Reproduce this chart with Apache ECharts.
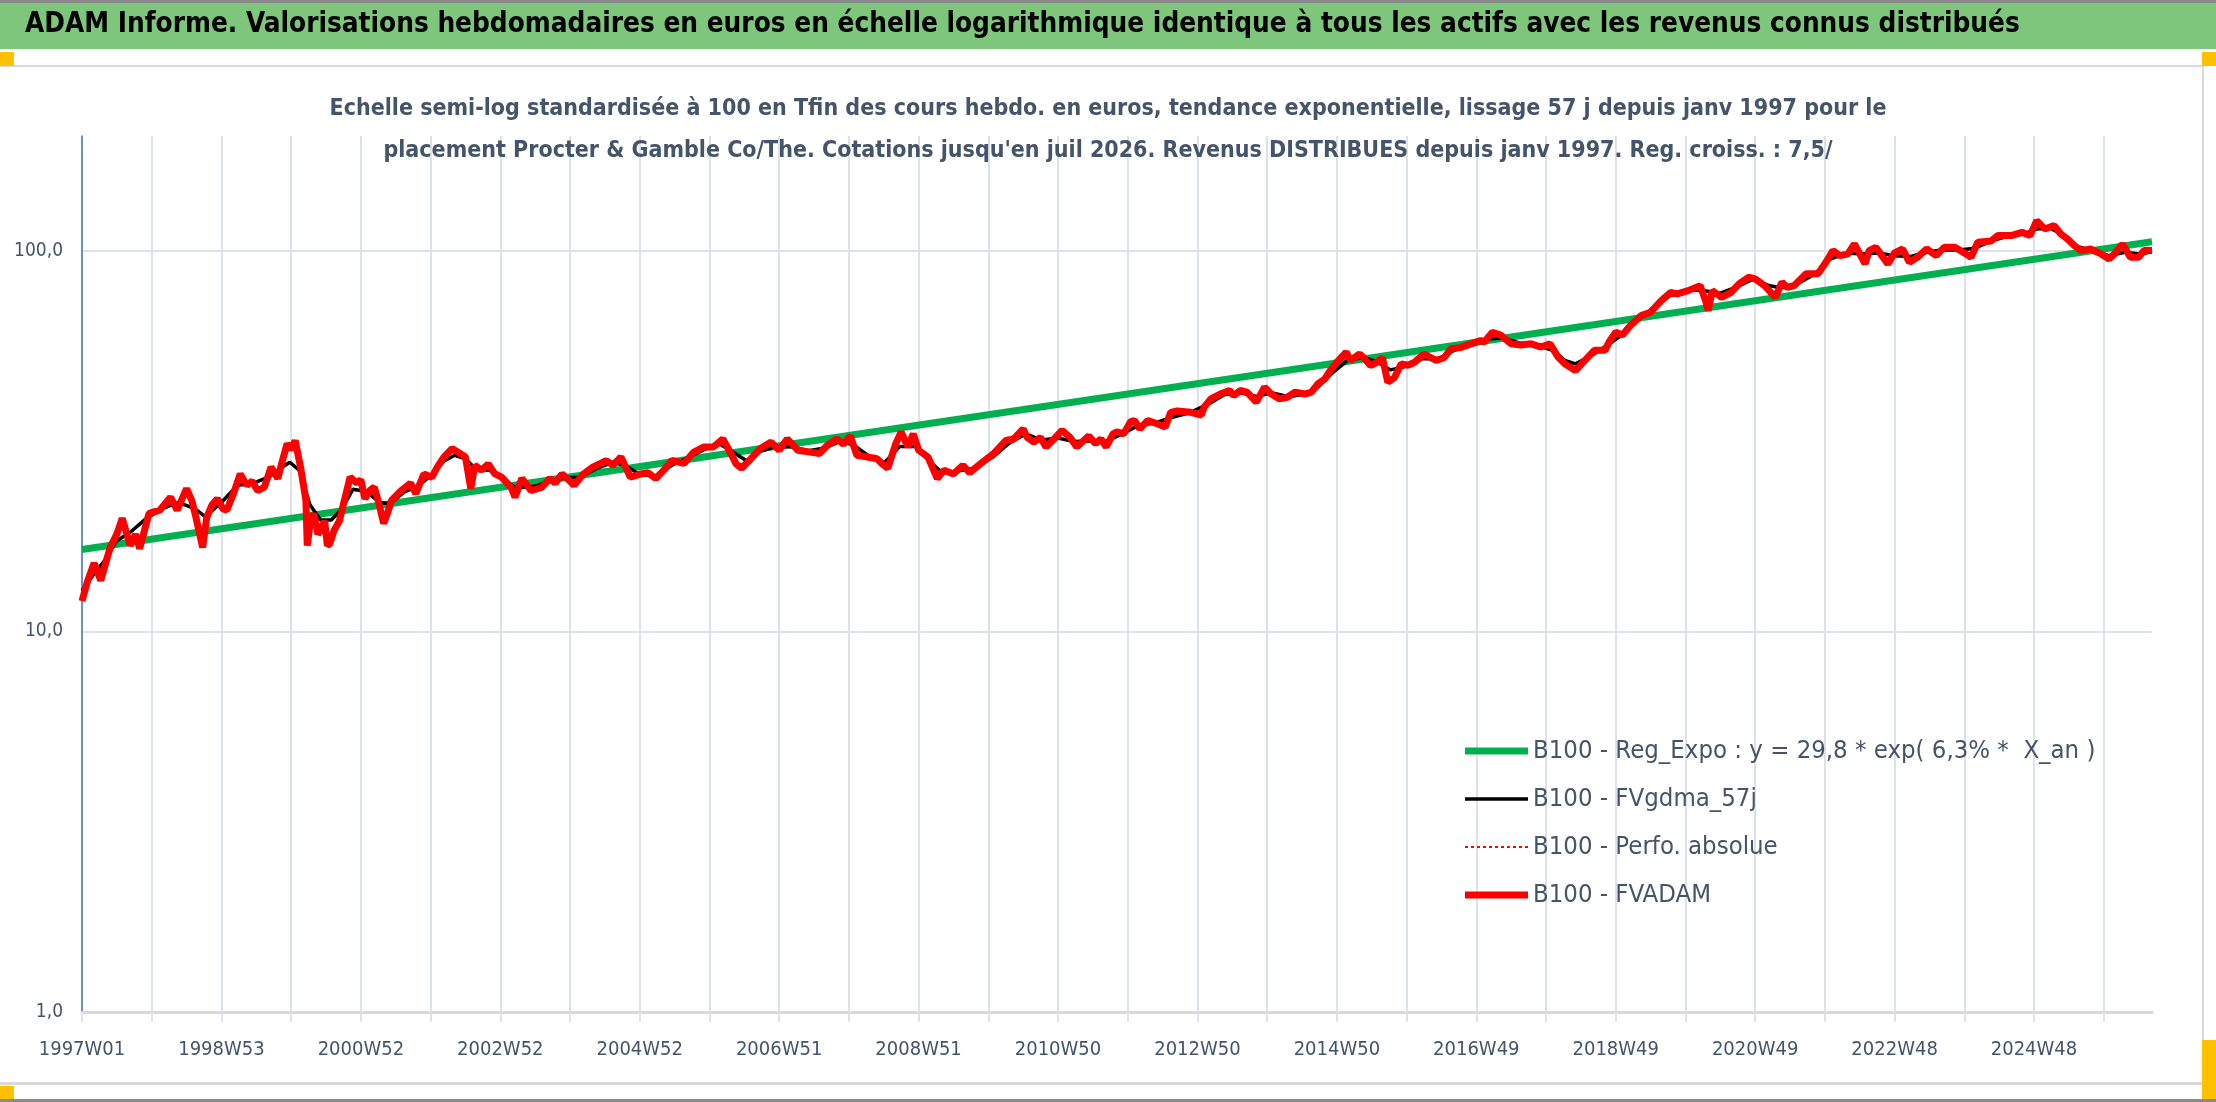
<!DOCTYPE html>
<html>
<head>
<meta charset="utf-8">
<title>ADAM Informe - Procter & Gamble</title>
<script src="https://cdn.jsdelivr.net/npm/echarts@6/dist/echarts.min.js"></script>
<style>
  html, body { margin: 0; padding: 0; background: #fff; }
  #main { width: 2216px; height: 1102px; }
</style>
</head>
<body>
<div id="main"></div>
<script>
// nombre de semaines affichees (1997W01 -> juil 2026)
var weekCount = 1545;

// libelles du graphique
var mainTitle = 'ADAM Informe. Valorisations hebdomadaires en euros en échelle logarithmique identique à tous les actifs avec les revenus connus distribués';
var subTitle1 = 'Echelle semi-log standardisée à 100 en Tfin des cours hebdo. en euros, tendance exponentielle, lissage 57 j depuis janv 1997 pour le';
var subTitle2 = "placement Procter & Gamble Co/The. Cotations jusqu'en juil 2026. Revenus DISTRIBUES depuis janv 1997. Reg. croiss. : 7,5/";
var seriesNames = [
  'B100 - Reg_Expo : y = 29,8 * exp( 6,3% *  X_an )',
  'B100 - FVgdma_57j',
  'B100 - Perfo. absolue',
  'B100 - FVADAM'
];

// tendance exponentielle : debut et fin (droite en echelle log)
var regExpo = [[0, 16.4], [1544, 105.5]];

// FVADAM : [index semaine, valeur]
var fvAdam = [
  [0, 12.0], [4, 13.5], [9, 15.1], [14, 13.6], [21, 16.6], [26, 18.0], [30, 19.8], [36, 16.8],
  [40, 18.0], [43, 16.5], [50, 20.4], [58, 20.8], [66, 22.5], [71, 20.8], [78, 23.7], [82, 22.0],
  [85, 19.9], [90, 16.6], [93, 19.9], [97, 21.5], [101, 22.3], [105, 21.0], [108, 20.8], [113, 23.0],
  [118, 25.9], [123, 24.2], [127, 24.8], [131, 23.4], [136, 23.9], [141, 27.0], [146, 25.2], [150, 28.5],
  [153, 31.1], [156, 30.0], [159, 31.7], [163, 27.0], [167, 22.1], [168, 16.8], [170, 19.0], [173, 20.4],
  [176, 18.0], [178, 18.4], [181, 19.5], [183, 16.8], [185, 17.0], [188, 18.4], [192, 19.5], [195, 21.6],
  [200, 25.4], [205, 24.5], [208, 25.0], [211, 22.3], [215, 23.5], [218, 23.9], [221, 22.0], [225, 19.2],
  [228, 20.5], [231, 22.1], [238, 23.4], [245, 24.5], [249, 23.0], [255, 25.9], [261, 25.4], [265, 27.0],
  [270, 28.7], [276, 30.2], [282, 29.3], [286, 28.7], [290, 23.7], [293, 27.3], [298, 26.5], [303, 27.5],
  [308, 25.9], [313, 25.4], [320, 23.9], [323, 22.5], [328, 25.2], [335, 23.4], [343, 23.9], [349, 25.2],
  [353, 24.5], [358, 25.9], [363, 25.0], [367, 24.2], [374, 25.9], [381, 27.0], [386, 27.5], [391, 28.1],
  [396, 27.3], [402, 28.7], [409, 25.4], [417, 25.9], [422, 26.1], [428, 25.2], [434, 26.5], [440, 28.1],
  [449, 27.6], [456, 29.5], [464, 30.5], [471, 30.5], [478, 32.0], [484, 29.3], [488, 27.5], [492, 26.8],
  [499, 28.4], [506, 30.2], [514, 31.4], [520, 29.9], [526, 32.0], [534, 29.9], [542, 29.6], [550, 29.3],
  [556, 30.8], [563, 32.0], [568, 31.0], [573, 32.6], [578, 29.0], [586, 28.7], [593, 28.4], [597, 27.5],
  [601, 26.8], [607, 31.1], [611, 33.4], [616, 30.5], [620, 33.0], [624, 29.9], [631, 28.7], [638, 25.2],
  [643, 26.5], [650, 25.9], [657, 27.3], [662, 26.1], [670, 27.5], [680, 29.3], [689, 31.7], [695, 32.0],
  [702, 34.0], [705, 32.3], [710, 31.4], [715, 32.3], [719, 30.5], [725, 32.0], [731, 33.7], [737, 32.3],
  [742, 30.5], [751, 32.6], [756, 31.1], [760, 32.0], [764, 30.5], [769, 33.0], [772, 33.4], [777, 33.0],
  [782, 35.5], [785, 35.8], [789, 34.0], [795, 35.8], [802, 35.1], [808, 34.4], [812, 37.6], [817, 37.9],
  [827, 37.6], [835, 37.0], [837, 38.8], [842, 40.8], [849, 42.0], [856, 42.9], [859, 41.6], [864, 42.9],
  [869, 42.5], [876, 40.0], [882, 43.8], [887, 42.0], [893, 40.8], [899, 41.2], [905, 42.5], [912, 42.0],
  [917, 42.5], [922, 44.7], [927, 46.0], [931, 48.4], [936, 50.9], [943, 54.1], [946, 51.5], [953, 53.5],
  [956, 52.3], [961, 49.9], [966, 50.9], [970, 52.3], [974, 45.1], [979, 46.4], [984, 50.4], [989, 50.0],
  [994, 50.9], [1001, 53.5], [1010, 51.5], [1016, 52.3], [1021, 55.2], [1028, 55.6], [1036, 56.9], [1043, 58.0],
  [1046, 57.5], [1052, 61.0], [1058, 60.0], [1066, 56.9], [1073, 56.5], [1081, 56.9], [1088, 55.8], [1095, 56.9],
  [1101, 52.5], [1106, 50.4], [1114, 48.4], [1121, 51.5], [1128, 54.7], [1136, 54.7], [1139, 57.5], [1144, 61.0],
  [1149, 60.0], [1155, 63.6], [1163, 67.5], [1170, 68.9], [1178, 73.9], [1185, 77.7], [1190, 77.0], [1198, 78.5],
  [1207, 80.9], [1211, 73.9], [1213, 69.6], [1216, 78.5], [1223, 75.4], [1230, 77.7], [1236, 81.8], [1243, 85.1],
  [1248, 84.3], [1255, 80.9], [1263, 75.4], [1268, 82.6], [1272, 80.0], [1277, 80.9], [1286, 86.9], [1295, 87.0],
  [1300, 92.3], [1303, 96.0], [1306, 100.0], [1311, 97.0], [1317, 97.9], [1322, 104.1], [1330, 92.3], [1333, 100.0],
  [1338, 102.0], [1347, 92.3], [1352, 98.6], [1358, 101.0], [1363, 93.2], [1369, 96.0], [1376, 101.0], [1383, 97.0],
  [1389, 102.0], [1397, 102.0], [1404, 98.6], [1409, 96.0], [1414, 105.2], [1424, 106.0], [1429, 109.5], [1439, 109.5],
  [1447, 111.7], [1453, 109.5], [1458, 119.9], [1464, 114.0], [1471, 116.3], [1476, 110.6], [1481, 107.3], [1486, 103.1],
  [1491, 100.0], [1498, 101.0], [1506, 98.0], [1512, 95.1], [1516, 98.0], [1522, 104.0], [1528, 96.0], [1534, 96.0],
  [1538, 100.0], [1544, 100.0]
];

// FVgdma_57j : moyenne lissee
var fvGdma = [
  [0, 12.8], [8, 14.0], [16, 15.2], [26, 17.3], [36, 18.2], [48, 19.8], [60, 21.0], [72, 21.8],
  [84, 21.0], [92, 20.0], [104, 21.8], [116, 24.2], [128, 24.5], [140, 25.5], [148, 26.8], [155, 27.8],
  [162, 26.5], [170, 21.5], [178, 19.6], [186, 19.6], [194, 21.0], [202, 23.6], [212, 23.3], [222, 21.8],
  [230, 21.6], [240, 23.2], [250, 24.0], [260, 25.6], [270, 28.0], [278, 29.0], [286, 28.4], [294, 26.6],
  [304, 26.5], [314, 25.0], [324, 23.8], [336, 24.0], [348, 24.7], [360, 25.3], [372, 25.4], [384, 26.8],
  [396, 27.8], [406, 27.2], [416, 25.8], [428, 25.6], [440, 27.3], [452, 28.6], [464, 30.0], [476, 31.0],
  [486, 29.5], [496, 28.0], [506, 29.7], [518, 30.6], [530, 30.5], [542, 29.8], [554, 30.3], [566, 31.6],
  [576, 30.8], [586, 29.0], [598, 27.6], [610, 30.6], [622, 30.6], [632, 28.0], [642, 26.0], [654, 26.4],
  [666, 26.8], [680, 28.8], [692, 31.3], [704, 33.0], [716, 31.8], [728, 32.2], [740, 31.5], [752, 31.6],
  [764, 31.6], [776, 33.0], [788, 34.8], [800, 35.2], [812, 36.4], [826, 37.5], [840, 39.5], [852, 41.8],
  [864, 42.3], [876, 41.4], [888, 42.3], [900, 41.3], [912, 42.0], [922, 43.8], [932, 47.5], [944, 51.5],
  [956, 52.4], [966, 51.0], [976, 48.6], [986, 49.5], [1000, 52.0], [1012, 52.0], [1024, 54.8], [1036, 56.6],
  [1048, 58.5], [1060, 59.0], [1072, 57.2], [1086, 56.3], [1098, 54.5], [1106, 51.5], [1114, 50.4], [1126, 53.0],
  [1138, 56.5], [1150, 60.5], [1162, 66.5], [1174, 71.5], [1186, 77.0], [1198, 78.8], [1210, 78.5], [1222, 77.3],
  [1234, 80.2], [1246, 84.0], [1258, 81.0], [1268, 79.8], [1280, 82.0], [1292, 86.5], [1304, 95.0], [1316, 98.5],
  [1328, 98.0], [1340, 98.5], [1352, 97.0], [1364, 96.5], [1376, 99.0], [1388, 100.5], [1400, 100.3], [1412, 101.5],
  [1424, 106.0], [1436, 109.0], [1448, 110.5], [1458, 114.0], [1468, 114.5], [1478, 110.0], [1488, 102.5], [1500, 100.0],
  [1512, 97.0], [1524, 99.0], [1536, 97.8], [1544, 99.5]
];

// Perfo. absolue : confondue avec FVADAM sur le graphique
var perfoAbsolue = fvAdam;

// semaines ISO depuis le lundi 30/12/1996 (= 1997W01)
function isoWeekLabel(i) {
  var day = 86400000;
  var monday = Date.UTC(1996, 11, 30) + i * 7 * day;
  var thursday = new Date(monday + 3 * day);
  var year = thursday.getUTCFullYear();
  var doy = Math.floor((thursday.getTime() - Date.UTC(year, 0, 1)) / day);
  var week = Math.floor(doy / 7) + 1;
  return year + 'W' + (week < 10 ? '0' + week : week);
}
var weeks = [];
for (var i = 0; i < weekCount; i++) {
  weeks.push(isoWeekLabel(i));
}

var narrow = "'Liberation Sans Narrow', 'DejaVu Sans Condensed', 'Noto Sans', sans-serif";
var slate = '#44546A';
var gridColor = '#DDE2EA';

// pictos de legende : traits horizontaux
var dots = '';
for (var k = 0; k < 11; k++) {
  dots += 'M' + (k * 6) + ',0h3v2h-3z';
}
var legendIcons = [
  'path://M0,0H63V7H0Z',
  'path://M0,0H63V3.5H0Z',
  'path://' + dots,
  'path://M0,0H63V7H0Z'
];

var chart = echarts.init(document.getElementById('main'));
var option = {
  animation: false,
  backgroundColor: '#ffffff',
  textStyle: { fontFamily: narrow },
  graphic: [
    { type: 'rect', z: -10, shape: { x: 0, y: 0, width: 2216, height: 3 }, style: { fill: '#8A8A8A' } },
    { type: 'rect', z: -10, shape: { x: 0, y: 3, width: 2216, height: 46 }, style: { fill: '#7DC67C' } },
    { type: 'rect', z: -10, shape: { x: 0, y: 65, width: 2204, height: 2 }, style: { fill: '#D9D9D9' } },
    { type: 'rect', z: -10, shape: { x: 0, y: 1082, width: 2204, height: 3 }, style: { fill: '#D9D9D9' } },
    { type: 'rect', z: -10, shape: { x: 2202, y: 65, width: 2, height: 1020 }, style: { fill: '#D9D9D9' } },
    { type: 'rect', z: -10, shape: { x: 0, y: 1099, width: 2216, height: 3 }, style: { fill: '#8A8A8A' } },
    { type: 'rect', z: -9, shape: { x: 0, y: 52, width: 14, height: 14 }, style: { fill: '#FFC000' } },
    { type: 'rect', z: -9, shape: { x: 2202, y: 52, width: 14, height: 14 }, style: { fill: '#FFC000' } },
    { type: 'rect', z: -9, shape: { x: 0, y: 1086, width: 14, height: 13 }, style: { fill: '#FFC000' } },
    { type: 'rect', z: -9, shape: { x: 2202, y: 1040, width: 14, height: 59 }, style: { fill: '#FFC000' } },
    {
      type: 'text', x: 25, y: 25, z: 100,
      style: { text: mainTitle, fill: '#000000', font: 'bold 27.7px ' + narrow, textAlign: 'left', textVerticalAlign: 'middle' }
    },
    {
      type: 'text', x: 1108, y: 109, z: 100,
      style: { text: subTitle1, fill: slate, font: 'bold 23px ' + narrow, textAlign: 'center', textVerticalAlign: 'middle' }
    },
    {
      type: 'text', x: 1108, y: 151, z: 100,
      style: { text: subTitle2, fill: slate, font: 'bold 23px ' + narrow, textAlign: 'center', textVerticalAlign: 'middle' }
    }
  ],
  legend: {
    orient: 'vertical',
    left: 1460,
    top: 733,
    itemWidth: 63,
    itemHeight: 14,
    itemGap: 22,
    textStyle: { fontFamily: narrow, fontSize: 25.5, color: slate },
    data: seriesNames.map(function (n, j) {
      return { name: n, icon: legendIcons[j] };
    })
  },
  grid: { left: 82, right: 64, top: 136, bottom: 90, containLabel: false },
  xAxis: {
    type: 'category',
    data: weeks,
    boundaryGap: false,
    axisLine: { show: true, lineStyle: { color: '#D9D9D9', width: 3 } },
    axisTick: { show: true, interval: 51, length: 10, lineStyle: { color: gridColor, width: 2 } },
    axisLabel: {
      interval: 103,
      margin: 28,
      fontFamily: narrow,
      fontSize: 20,
      color: slate
    },
    splitLine: { show: true, interval: 51, lineStyle: { color: gridColor, width: 2 } }
  },
  yAxis: {
    type: 'log',
    logBase: 10,
    min: 1,
    max: 200,
    axisLine: { show: true, lineStyle: { color: '#4472C4', width: 1.5 } },
    axisTick: { show: false },
    axisLabel: {
      margin: 19,
      showMaxLabel: false,
      fontFamily: narrow,
      fontSize: 19,
      color: slate,
      formatter: function (v) { return v.toFixed(1).replace('.', ','); }
    },
    splitLine: { show: true, showMaxLine: false, lineStyle: { color: gridColor, width: 2 } }
  },
  series: [{
    name: seriesNames[0],
    type: 'line',
    data: regExpo,
    symbol: 'none',
    lineStyle: { color: '#00B050', width: 7 },
    itemStyle: { color: '#00B050' }
  }, {
    name: seriesNames[1],
    type: 'line',
    data: fvGdma,
    symbol: 'none',
    lineStyle: { color: '#000000', width: 3.5 },
    itemStyle: { color: '#000000' }
  }, {
    name: seriesNames[2],
    type: 'line',
    data: perfoAbsolue,
    symbol: 'none',
    lineStyle: { color: '#FF0000', width: 1.5, type: 'dotted' },
    itemStyle: { color: '#FF0000' }
  }, {
    name: seriesNames[3],
    type: 'line',
    data: fvAdam,
    symbol: 'none',
    lineStyle: { color: '#FF0000', width: 7 },
    itemStyle: { color: '#FF0000' }
  }]
};
chart.setOption(option);
</script>
</body>
</html>
